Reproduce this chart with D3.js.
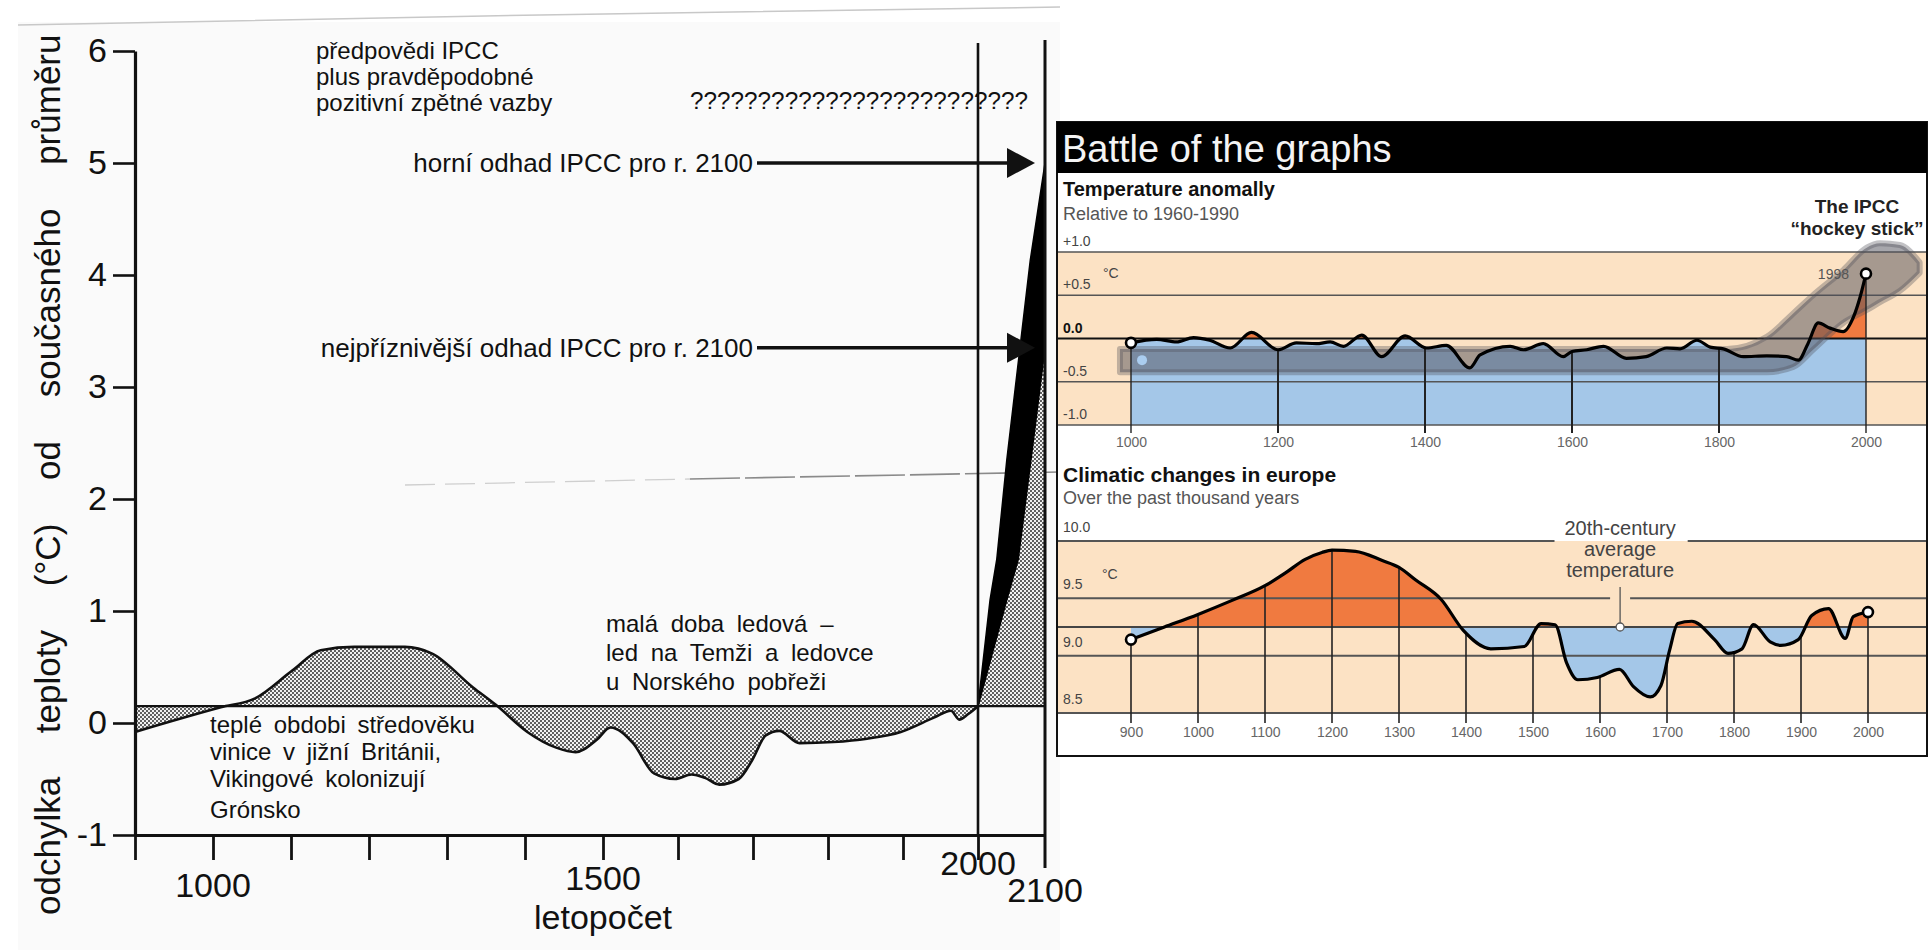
<!DOCTYPE html>
<html><head><meta charset="utf-8">
<script src="https://cdn.jsdelivr.net/npm/d3@7"></script>
<style>
body{margin:0;background:#fff;}
svg{display:block;}
text{font-family:"Liberation Sans",Arial,Helvetica,sans-serif;}
</style>
</head><body>
<svg id="c" width="1930" height="952"></svg>
<script>
// ---------- LEFT CHART DATA (Czech scan) ----------
const leftYears  = [900, 1010, 1054, 1102, 1138, 1181, 1246, 1281, 1333, 1363, 1403, 1440, 1465, 1492, 1510, 1540, 1568, 1596, 1618, 1636, 1655, 1681, 1699, 1717, 1735, 1762, 1807, 1852, 1897, 1942, 1964, 1975, 1987, 2000];
const leftValues = [-0.08, 0.14, 0.22, 0.47, 0.65, 0.68, 0.68, 0.62, 0.32, 0.16, -0.08, -0.22, -0.26, -0.15, -0.04, -0.18, -0.45, -0.5, -0.46, -0.49, -0.55, -0.5, -0.33, -0.11, -0.07, -0.18, -0.17, -0.14, -0.08, 0.05, 0.11, 0.03, 0.08, 0.15];
const presentMean = 0.15;
const projUpperYears = [2000, 2018, 2028, 2043, 2078, 2100];
const projUpperValues = [0.15, 1.1, 1.46, 2.35, 4.13, 5.0];
const projLowerYears = [2000, 2043, 2060, 2079, 2100];
const projLowerValues = [0.15, 1.1, 1.46, 2.35, 3.35];
const leftYTicks = [-1, 0, 1, 2, 3, 4, 5, 6];
const leftXTicks = [900, 1000, 1100, 1200, 1300, 1400, 1500, 1600, 1700, 1800, 1900, 2000];
const leftXLabels = [1000, 1500, 2000, 2100];
const leftMarkerYears = [2000, 2100];
const arrowLabels = ["horní odhad IPCC pro r. 2100", "nejpříznivější odhad IPCC pro r. 2100"];
const arrowValues = [5.0, 3.35];
const leftTitle = "odchylka teploty (°C) od současného průměru";
const leftXTitle = "letopočet";
const forecastLines = ["předpovědi IPCC", "plus pravděpodobné", "pozitivní zpětné vazby"];
const questionMarks = "?????????????????????????";
const medievalLines = ["teplé obdobi středověku", "vinice v jižní Británii,", "Vikingové kolonizují", "Grónsko"];
const iceAgeLines = ["malá doba ledová –", "led na Temži a ledovce", "u Norského pobřeži"];

// ---------- RIGHT TOP: Temperature anomally ----------
const hsYears  = [1000,1035,1062,1085,1107,1135,1164,1200,1225,1252,1271,1289,1314,1341,1373,1402,1429,1461,1475,1516,1534,1561,1588,1600,1620,1643,1674,1701,1729,1747,1770,1788,1806,1833,1865,1892,1908,1921,1935,1951,1969,1983,1992,2000];
const hsValues = [-0.05,-0.01,-0.04,0.01,-0.02,-0.11,0.07,-0.13,-0.05,-0.06,-0.04,-0.09,0.04,-0.21,0.03,-0.11,-0.08,-0.34,-0.19,-0.09,-0.13,-0.06,-0.21,-0.15,-0.13,-0.09,-0.23,-0.21,-0.11,-0.12,-0.02,-0.10,-0.12,-0.21,-0.20,-0.21,-0.25,-0.06,0.18,0.12,0.08,0.25,0.48,0.75];
const hsTicks = [1000, 1200, 1400, 1600, 1800, 2000];
const hsYTicks = [1, 0.5, 0, -0.5, -1];
const hsYLabels = ["+1.0", "+0.5", "0.0", "-0.5", "-1.0"];
const bandYears = [985, 1811, 1865, 1901, 1928, 1969, 2001, 2019, 2046, 2073];
const bandHigh  = [-0.12, -0.12, 0.02, 0.29, 0.5, 0.79, 1.05, 1.1, 1.08, 0.88];
const bandLow   = [-0.39, -0.39, -0.39, -0.33, -0.13, 0.18, 0.33, 0.42, 0.55, 0.76];
const bandDot = [1015, -0.25];
const lastYearLabel = "1998";

// ---------- RIGHT BOTTOM: Climatic changes in europe ----------
const euYears  = [900, 950, 1000, 1050, 1100, 1130, 1160, 1185, 1200, 1235, 1275, 1300, 1325, 1363, 1396, 1437, 1487, 1512, 1533, 1550, 1567, 1596, 1629, 1650, 1675, 1691, 1704, 1716, 1737, 1771, 1791, 1812, 1829, 1854, 1870, 1896, 1916, 1941, 1966, 1978, 2000];
const euValues = [9.14, 9.25, 9.36, 9.48, 9.61, 9.72, 9.84, 9.90, 9.92, 9.91, 9.83, 9.77, 9.66, 9.49, 9.22, 9.06, 9.08, 9.28, 9.27, 8.94, 8.79, 8.81, 8.88, 8.73, 8.64, 8.74, 9.05, 9.28, 9.30, 9.14, 9.02, 9.06, 9.27, 9.12, 9.09, 9.14, 9.35, 9.41, 9.15, 9.34, 9.38];
const euTicks = [900, 1000, 1100, 1200, 1300, 1400, 1500, 1600, 1700, 1800, 1900, 2000];
const euYTicks = [10, 9.5, 9, 8.5];
const euYLabels = ["10.0", "9.5", "9.0", "8.5"];
const euAverage = 9.25;
const euAverageLabelYear = 1630;
const euAverageLabel = ["20th-century", "average", "temperature"];

// ---------- colours ----------
const BEIGE = "#fce2c4", BLUE = "#a4c7e8", ORANGE = "#f07a40";

const svg = d3.select("#c");
svg.append("rect").attr("width", 1930).attr("height", 952).attr("fill", "#fff");
const defs = svg.append("defs");
const pat = defs.append("pattern").attr("id", "stip").attr("patternUnits", "userSpaceOnUse").attr("width", 4).attr("height", 4);
pat.append("rect").attr("width", 4).attr("height", 4).attr("fill", "#f2f2f2");
pat.append("circle").attr("cx", 1).attr("cy", 1).attr("r", 0.95).attr("fill", "#222");
pat.append("circle").attr("cx", 3).attr("cy", 3).attr("r", 0.95).attr("fill", "#222");

// ================= LEFT CHART =================
const gL = svg.append("g");
gL.append("rect").attr("x", 18).attr("y", 22).attr("width", 1042).attr("height", 928).attr("fill", "#fafafa");
gL.append("path").attr("d", "M18,25 L540,15 L1060,7").attr("fill", "none").attr("stroke", "#c8c8c8").attr("stroke-width", 1.5);
gL.append("path").attr("d", "M405,485 L690,479").attr("fill", "none").attr("stroke", "#cfcfcf").attr("stroke-width", 1.3).attr("stroke-dasharray", "30,10");
gL.append("path").attr("d", "M690,479 L1060,472").attr("fill", "none").attr("stroke", "#8a8a8a").attr("stroke-width", 1.6).attr("stroke-dasharray", "50,5");

const xL = d3.scaleLinear().domain([900, 1000, 1500, 2000, 2100]).range([135, 213, 603, 978, 1045]);
const yL = d3.scaleLinear().domain([-1, 6]).range([835, 51]);

const leftPts = leftYears.map((y, i) => ({ x: y, v: leftValues[i] }));
const upPts = projUpperYears.map((y, i) => ({ x: y, v: projUpperValues[i] }));
const loPts = projLowerYears.map((y, i) => ({ x: y, v: projLowerValues[i] }));

const areaL = d3.area().x(d => xL(d.x)).y0(yL(presentMean)).y1(d => yL(d.v)).curve(d3.curveMonotoneX);
gL.append("path").datum(leftPts).attr("d", areaL).attr("fill", "url(#stip)");
gL.append("path").datum(loPts).attr("d", d3.area().x(d => xL(d.x)).y0(yL(presentMean)).y1(d => yL(d.v))).attr("fill", "url(#stip)");
const wedge = upPts.concat(loPts.slice().reverse());
gL.append("path").attr("d", d3.line().x(d => xL(d.x)).y(d => yL(d.v))(wedge) + "Z").attr("fill", "#000").attr("stroke", "#000").attr("stroke-width", 1.5);

gL.append("path").datum(leftPts).attr("d", d3.line().x(d => xL(d.x)).y(d => yL(d.v)).curve(d3.curveMonotoneX))
  .attr("fill", "none").attr("stroke", "#111").attr("stroke-width", 2.6);
// present mean baseline
gL.append("line").attr("x1", xL(900)).attr("x2", xL(2100)).attr("y1", yL(presentMean)).attr("y2", yL(presentMean))
  .attr("stroke", "#111").attr("stroke-width", 2.2);

// vertical marker lines at 2000 and 2100
gL.append("line").attr("x1", xL(leftMarkerYears[0])).attr("x2", xL(leftMarkerYears[0])).attr("y1", yL(6) - 8).attr("y2", yL(-1))
  .attr("stroke", "#111").attr("stroke-width", 2.6);
gL.append("line").attr("x1", xL(leftMarkerYears[1])).attr("x2", xL(leftMarkerYears[1])).attr("y1", yL(6) - 11).attr("y2", yL(-1) + 33)
  .attr("stroke", "#111").attr("stroke-width", 3);

// axes
const yAxisL = d3.axisLeft(yL).tickValues(leftYTicks).tickSize(22).tickPadding(6).tickSizeOuter(0).tickFormat(d => String(d));
const gYA = gL.append("g").attr("transform", `translate(${xL(900)},0)`).call(yAxisL);
gYA.select(".domain").attr("stroke", "#111").attr("stroke-width", 3.2);
gYA.selectAll(".tick line").attr("stroke", "#111").attr("stroke-width", 2.6);
gYA.selectAll(".tick text").attr("font-size", 34).attr("fill", "#111").attr("font-family", "Liberation Sans, Arial, sans-serif");

const xAxisL = d3.axisBottom(xL).tickValues(leftXTicks).tickSize(25).tickSizeOuter(0).tickFormat(() => "");
const gXA = gL.append("g").attr("transform", `translate(0,${yL(-1)})`).call(xAxisL);
gXA.select(".domain").attr("stroke", "#111").attr("stroke-width", 3.2);
gXA.selectAll(".tick line").attr("stroke", "#111").attr("stroke-width", 2.8);

const xLabelDy = [62, 55, 40, 67];
gL.selectAll("text.xl").data(leftXLabels).join("text").attr("class", "xl")
  .attr("x", d => xL(d)).attr("y", (d, i) => yL(-1) + xLabelDy[i]).attr("text-anchor", "middle")
  .attr("font-size", 34).attr("fill", "#111").text(d => d);
gL.append("text").attr("x", xL(1500)).attr("y", yL(-1) + 94).attr("text-anchor", "middle").attr("font-size", 34).attr("fill", "#111").text(leftXTitle);

gL.append("text").attr("transform", `translate(60,${yL(-1) + 80}) rotate(-90)`).attr("font-size", 35).attr("fill", "#111")
  .attr("word-spacing", 34).text(leftTitle);

// annotations
forecastLines.forEach((t, i) => {
  gL.append("text").attr("x", 316).attr("y", 59 + i * 26).attr("font-size", 24).attr("fill", "#111").text(t);
});
gL.append("text").attr("x", 690).attr("y", 109).attr("font-size", 24).attr("fill", "#111")
  .attr("textLength", 338).attr("lengthAdjust", "spacingAndGlyphs").text(questionMarks);

arrowValues.forEach((v, i) => {
  const yy = yL(v);
  gL.append("text").attr("x", 753).attr("y", yy + 9).attr("text-anchor", "end").attr("font-size", 26).attr("fill", "#111").text(arrowLabels[i]);
  const tip = xL(2100) - 10, base = tip - 28;
  gL.append("line").attr("x1", 757).attr("x2", base + 2).attr("y1", yy).attr("y2", yy).attr("stroke", "#111").attr("stroke-width", 3.5);
  gL.append("path").attr("d", `M${base},${yy - 15} L${tip},${yy} L${base},${yy + 15} Z`).attr("fill", "#111");
});

medievalLines.forEach((t, i) => {
  gL.append("text").attr("x", 210).attr("y", [733, 760, 787, 818][i]).attr("font-size", 24).attr("word-spacing", 5).attr("fill", "#111").text(t);
});
iceAgeLines.forEach((t, i) => {
  gL.append("text").attr("x", 606).attr("y", 632 + i * 29).attr("font-size", 24).attr("word-spacing", 6).attr("fill", "#111").text(t);
});

// ================= RIGHT PANEL =================
const gR = svg.append("g");
gR.append("rect").attr("x", 1057).attr("y", 122).attr("width", 870).attr("height", 634).attr("fill", "#fff").attr("stroke", "#111").attr("stroke-width", 2);
gR.append("rect").attr("x", 1057).attr("y", 122).attr("width", 870).attr("height", 51).attr("fill", "#000");
gR.append("text").attr("x", 1062).attr("y", 162).attr("font-size", 38).attr("fill", "#f4f4f4").text("Battle of the graphs");

// ---- top panel ----
const xT = d3.scaleLinear().domain([1000, 2000]).range([1131, 1866]);
const yT = d3.scaleLinear().domain([-1, 1]).range([425, 252]);
const PL = 1058, PR = 1926;

gR.append("text").attr("x", 1063).attr("y", 196).attr("font-size", 20).attr("font-weight", "bold").attr("fill", "#111").text("Temperature anomally");
gR.append("text").attr("x", 1063).attr("y", 220).attr("font-size", 18).attr("fill", "#555").text("Relative to 1960-1990");
gR.append("text").attr("x", 1857).attr("y", 213).attr("text-anchor", "middle").attr("font-size", 19).attr("font-weight", "bold").attr("fill", "#222").text("The IPCC");
gR.append("text").attr("x", 1857).attr("y", 235).attr("text-anchor", "middle").attr("font-size", 19).attr("font-weight", "bold").attr("fill", "#222").text("“hockey stick”");

gR.append("rect").attr("x", PL).attr("y", yT(1)).attr("width", PR - PL).attr("height", yT(-1) - yT(1)).attr("fill", BEIGE);

const hsPts = hsYears.map((y, i) => ({ x: y, v: hsValues[i] }));
defs.append("clipPath").attr("id", "tBelow").append("rect").attr("x", 0).attr("y", yT(0)).attr("width", 1930).attr("height", 400);
defs.append("clipPath").attr("id", "tAbove").append("rect").attr("x", 0).attr("y", 0).attr("width", 1930).attr("height", yT(0));
const hsCurve = d3.curveMonotoneX;
gR.append("path").datum(hsPts).attr("clip-path", "url(#tBelow)")
  .attr("d", d3.area().x(d => xT(d.x)).y0(yT(-1)).y1(d => yT(d.v)).curve(hsCurve)).attr("fill", BLUE);
gR.append("path").datum(hsPts).attr("clip-path", "url(#tAbove)")
  .attr("d", d3.area().x(d => xT(d.x)).y0(yT(0)).y1(d => yT(d.v)).curve(hsCurve)).attr("fill", ORANGE);

hsYTicks.forEach((t, i) => {
  gR.append("line").attr("x1", PL).attr("x2", PR).attr("y1", yT(t)).attr("y2", yT(t))
    .attr("stroke", t === 0 ? "#111" : "#555").attr("stroke-width", t === 0 ? 1.8 : 1.3);
  gR.append("text").attr("x", 1063).attr("y", yT(t) - 6).attr("font-size", 14)
    .attr("font-weight", t === 0 ? "bold" : "normal").attr("fill", t === 0 ? "#111" : "#444").text(hsYLabels[i]);
});
gR.append("text").attr("x", 1103).attr("y", yT(0.5) - 17).attr("font-size", 14).attr("fill", "#444").text("°C");

// grey hockey-stick band
const bandPts = bandYears.map((y, i) => ({ x: y, lo: bandLow[i], hi: bandHigh[i] }));
gR.append("path").datum(bandPts)
  .attr("d", d3.area().x(d => xT(d.x)).y0(d => yT(d.lo)).y1(d => yT(d.hi)).curve(d3.curveMonotoneX))
  .attr("fill", "rgba(80,80,90,0.5)").attr("stroke", "rgba(80,80,90,0.35)").attr("stroke-width", 6).attr("stroke-linejoin", "round");
gR.append("circle").attr("cx", xT(bandDot[0])).attr("cy", yT(bandDot[1])).attr("r", 5).attr("fill", "#aacdef");

// vertical tick lines
const hsInterp = d3.scaleLinear().domain(hsYears).range(hsValues);
hsTicks.forEach(t => {
  gR.append("line").attr("x1", xT(t)).attr("x2", xT(t)).attr("y1", yT(hsInterp(t))).attr("y2", yT(-1) + 8)
    .attr("stroke", "#222").attr("stroke-width", (t === 1000 || t === 2000) ? 1.4 : 2);
});
gR.append("path").datum(hsPts).attr("d", d3.line().x(d => xT(d.x)).y(d => yT(d.v)).curve(hsCurve))
  .attr("fill", "none").attr("stroke", "#000").attr("stroke-width", 3.2).attr("stroke-linejoin", "round");
[hsPts[0], hsPts[hsPts.length - 1]].forEach(p => {
  gR.append("circle").attr("cx", xT(p.x)).attr("cy", yT(p.v)).attr("r", 5).attr("fill", "#fff").attr("stroke", "#000").attr("stroke-width", 2.6);
});
gR.append("text").attr("x", xT(2000) - 17).attr("y", yT(hsValues[hsValues.length - 1]) + 5).attr("text-anchor", "end")
  .attr("font-size", 14).attr("fill", "#555").text(lastYearLabel);

const xAxisT = d3.axisBottom(xT).tickValues(hsTicks).tickSize(0).tickPadding(12).tickFormat(d => String(d));
const gXT = gR.append("g").attr("transform", `translate(0,${yT(-1)})`).call(xAxisT);
gXT.select(".domain").remove();
gXT.selectAll("text").attr("font-size", 14).attr("fill", "#666").attr("font-family", "Liberation Sans, Arial, sans-serif");

// ---- bottom panel ----
const xB = d3.scaleLinear().domain([900, 2000]).range([1131, 1868]);
const yB = d3.scaleLinear().domain([8.5, 10]).range([713, 541]);

gR.append("text").attr("x", 1063).attr("y", 482).attr("font-size", 21).attr("font-weight", "bold").attr("fill", "#111").text("Climatic changes in europe");
gR.append("text").attr("x", 1063).attr("y", 504).attr("font-size", 18).attr("fill", "#555").text("Over the past thousand years");

gR.append("rect").attr("x", PL).attr("y", yB(10)).attr("width", PR - PL).attr("height", yB(8.5) - yB(10)).attr("fill", BEIGE);

const euPts = euYears.map((y, i) => ({ x: y, v: euValues[i] }));
defs.append("clipPath").attr("id", "bBelow").append("rect").attr("x", 0).attr("y", yB(euAverage)).attr("width", 1930).attr("height", 400);
defs.append("clipPath").attr("id", "bAbove").append("rect").attr("x", 0).attr("y", 0).attr("width", 1930).attr("height", yB(euAverage));
const euCurve = d3.curveMonotoneX;
const euArea = d3.area().x(d => xB(d.x)).y0(yB(euAverage)).y1(d => yB(d.v)).curve(euCurve);
gR.append("path").datum(euPts).attr("clip-path", "url(#bBelow)").attr("d", euArea).attr("fill", BLUE);
gR.append("path").datum(euPts).attr("clip-path", "url(#bAbove)").attr("d", euArea).attr("fill", ORANGE);

// average label
const lblX = xB(euAverageLabelYear);
const lblG = gR.append("g");
euAverageLabel.forEach((t, i) => {
  lblG.append("text").attr("x", lblX).attr("y", 535 + i * 21).attr("text-anchor", "middle").attr("font-size", 20).attr("fill", "#444").text(t);
});
const bb0 = lblG.node().getBBox();

euYTicks.forEach((t, i) => {
  const yy = yB(t);
  let segs = [[PL, PR]];
  if (t === 10) segs = [[PL, bb0.x - 10], [bb0.x + bb0.width + 12, PR]];
  if (t === 9.5) segs = [[PL, lblX - 10], [lblX + 10, PR]];
  segs.forEach(s => gR.append("line").attr("x1", s[0]).attr("x2", s[1]).attr("y1", yy).attr("y2", yy).attr("stroke", "#555").attr("stroke-width", 2));
  gR.append("text").attr("x", 1063).attr("y", yy - 9).attr("font-size", 14).attr("fill", "#444").text(euYLabels[i]);
});
gR.append("line").attr("x1", PL).attr("x2", PR).attr("y1", yB(euAverage)).attr("y2", yB(euAverage)).attr("stroke", "#444").attr("stroke-width", 2.2);
gR.append("text").attr("x", 1102).attr("y", yB(9.7) + 4).attr("font-size", 14).attr("fill", "#444").text("°C");

gR.append("line").attr("x1", lblX).attr("x2", lblX).attr("y1", bb0.y + bb0.height + 6).attr("y2", yB(euAverage) - 4).attr("stroke", "#555").attr("stroke-width", 1.3);
gR.append("circle").attr("cx", lblX).attr("cy", yB(euAverage)).attr("r", 4).attr("fill", "#fff").attr("stroke", "#555").attr("stroke-width", 1.3);

const euInterp = d3.scaleLinear().domain(euYears).range(euValues);
euTicks.forEach(t => {
  gR.append("line").attr("x1", xB(t)).attr("x2", xB(t)).attr("y1", yB(euInterp(t))).attr("y2", yB(8.5) + 10)
    .attr("stroke", "#222").attr("stroke-width", 1.6);
});
gR.append("path").datum(euPts).attr("d", d3.line().x(d => xB(d.x)).y(d => yB(d.v)).curve(euCurve))
  .attr("fill", "none").attr("stroke", "#000").attr("stroke-width", 3.2).attr("stroke-linejoin", "round");
[euPts[0], euPts[euPts.length - 1]].forEach(p => {
  gR.append("circle").attr("cx", xB(p.x)).attr("cy", yB(p.v)).attr("r", 5).attr("fill", "#fff").attr("stroke", "#000").attr("stroke-width", 2.6);
});
const xAxisB = d3.axisBottom(xB).tickValues(euTicks).tickSize(0).tickPadding(14).tickFormat(d => String(d));
const gXB = gR.append("g").attr("transform", `translate(0,${yB(8.5)})`).call(xAxisB);
gXB.select(".domain").remove();
gXB.selectAll("text").attr("font-size", 14).attr("fill", "#666").attr("font-family", "Liberation Sans, Arial, sans-serif");
</script>
</body></html>
